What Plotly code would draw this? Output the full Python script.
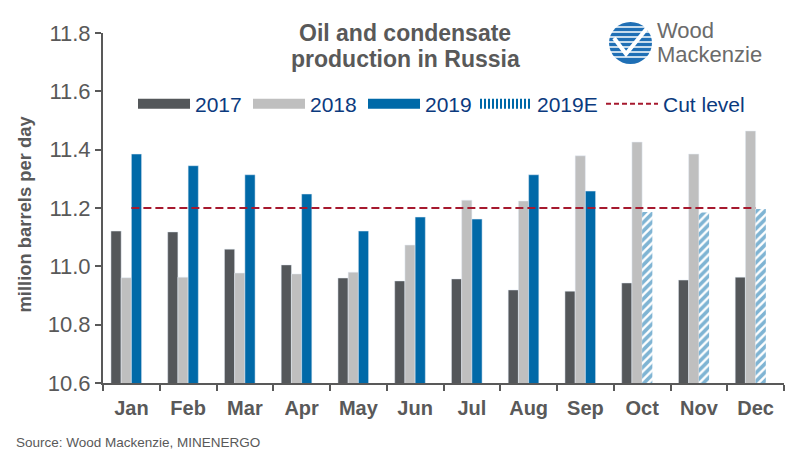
import plotly.graph_objects as go

months = ["Jan", "Feb", "Mar", "Apr", "May", "Jun", "Jul", "Aug", "Sep", "Oct", "Nov", "Dec"]
y2017 = [11.121, 11.118, 11.059, 11.005, 10.960, 10.950, 10.957, 10.919, 10.915, 10.943, 10.953, 10.963]
y2018 = [10.961, 10.963, 10.977, 10.974, 10.980, 11.073, 11.227, 11.224, 11.379, 11.426, 11.385, 11.464]
y2019 = [11.385, 11.345, 11.314, 11.248, 11.121, 11.169, 11.162, 11.314, 11.258, None, None, None]
y2019e = [None, None, None, None, None, None, None, None, None, 11.186, 11.185, 11.197]
cut_level = [11.2] * 12
y_ticks = [10.6, 10.8, 11.0, 11.2, 11.4, 11.6, 11.8]

FONT = "Liberation Sans, Arial, sans-serif"
GREY = "#595959"
BLUE = "#0069A8"
LEG_BLUE = "#0B3A7E"
C2017 = "#54575A"
C2018 = "#BFBFBF"
CUT = "#A6192E"

BW = 0.18
fig = go.Figure()
fig.add_trace(go.Bar(x=months, y=y2017, name="2017", marker_color=C2017,
                     width=BW, offset=-0.36, showlegend=False, legendgroup="a"))
fig.add_trace(go.Bar(x=months, y=y2018, name="2018", marker_color=C2018,
                     width=BW, offset=-0.18, showlegend=False, legendgroup="b"))
fig.add_trace(go.Bar(x=months, y=y2019, name="2019", marker_color=BLUE,
                     width=BW, offset=0.0, showlegend=False, legendgroup="c"))
fig.add_trace(go.Bar(x=months, y=y2019e, name="2019E",
                     marker=dict(color="white", line=dict(width=0),
                                 pattern=dict(shape="/", fgcolor=BLUE, bgcolor="white",
                                              size=6, solidity=0.6, fillmode="overlay")),
                     width=BW, offset=0.0, showlegend=False, legendgroup="d"))
fig.add_trace(go.Scatter(x=months, y=cut_level, name="Cut level", mode="lines",
                         line=dict(color=CUT, width=2, dash="8px,4px"), legendgroup="e",
                         showlegend=False))

# legend entries (wide Excel-style swatches)
for name, col, dash, grp, leg in [("2017", C2017, "solid", "a", "legend"),
                                  ("2018", C2018, "solid", "b", "legend"),
                                  ("2019", BLUE, "solid", "c", "legend"),
                                  ("2019E", BLUE, "2px,2px", "d", "legend2")]:
    fig.add_trace(go.Scatter(x=[None], y=[None], mode="lines", name=name, legendgroup=grp,
                             legend=leg, line=dict(color=col, width=11, dash=dash)))
fig.add_trace(go.Scatter(x=[None], y=[None], mode="lines", name="Cut level", legendgroup="e",
                         legend="legend3", line=dict(color=CUT, width=2, dash="5px,3px")))


def px(xp):
    return (xp - 103) / 681


def py(yp):
    return (383 - yp) / 350


shapes = []
shapes.append(dict(type="circle", xref="paper", yref="paper",
                   x0=px(609), x1=px(652), y0=py(64), y1=py(22),
                   fillcolor="#1F6FB5", line=dict(width=0), layer="above"))
for yy in [27, 32, 37, 42, 47, 52, 57]:
    shapes.append(dict(type="line", xref="paper", yref="paper",
                       x0=px(609), x1=px(652), y0=py(yy), y1=py(yy),
                       line=dict(color="white", width=1.5), layer="above"))
shapes.append(dict(type="path", xref="paper", yref="paper",
                   path=f"M {px(614)} {py(38)} L {px(626)} {py(54)} L {px(648)} {py(27)}",
                   line=dict(color="white", width=4), layer="above"))

annotations = [
    dict(text="<b>Oil and condensate</b>", xref="paper", yref="paper",
         x=px(405), y=py(33), xanchor="center", yanchor="middle", showarrow=False,
         font=dict(family=FONT, size=23, color=GREY)),
    dict(text="<b>production in Russia</b>", xref="paper", yref="paper",
         x=px(405), y=py(59), xanchor="center", yanchor="middle", showarrow=False,
         font=dict(family=FONT, size=23, color=GREY)),
    dict(text="Wood", xref="paper", yref="paper",
         x=px(655), y=py(31), xanchor="left", yanchor="middle", showarrow=False,
         font=dict(family=FONT, size=22, color="#6B6B6B")),
    dict(text="Mackenzie", xref="paper", yref="paper",
         x=px(655), y=py(55), xanchor="left", yanchor="middle", showarrow=False,
         font=dict(family=FONT, size=22, color="#6B6B6B")),
    dict(text="<b>million barrels per day</b>", xref="paper", yref="paper",
         x=px(24), y=py(214.5), xanchor="center", yanchor="middle", showarrow=False,
         textangle=-90, font=dict(family=FONT, size=18.4, color=GREY)),
    dict(text="Source: Wood Mackenzie, MINENERGO", xref="paper", yref="paper",
         x=px(14), y=py(442), xanchor="left", yanchor="middle", showarrow=False,
         font=dict(family=FONT, size=13.5, color=GREY)),
]

leg_common = dict(orientation="h", y=py(104), xanchor="left", yanchor="middle",
                  font=dict(family=FONT, size=21, color=LEG_BLUE), itemwidth=52,
                  tracegroupgap=0, bgcolor="rgba(0,0,0,0)")

fig.update_layout(
    width=796, height=454,
    margin=dict(l=103, r=12, t=33, b=71),
    paper_bgcolor="white", plot_bgcolor="white",
    barmode="overlay",
    font=dict(family=FONT, color=GREY),
    showlegend=True,
    legend=dict(x=px(133), entrywidth=48, entrywidthmode="pixels", **leg_common),
    legend2=dict(x=px(475), **leg_common),
    legend3=dict(x=px(601), **leg_common),
    xaxis=dict(type="category", showline=True, linecolor=GREY, linewidth=2,
               ticks="outside", tickson="boundaries", ticklen=6, tickcolor=GREY, tickwidth=2,
               tickfont=dict(family=FONT, size=20, color=GREY),
               tickprefix="<b>", ticksuffix="</b>",
               ticklabelstandoff=6, showgrid=False),
    yaxis=dict(range=[10.6, 11.8], tickvals=y_ticks, ticktext=[f"{v:.1f}" for v in y_ticks],
               showline=True, linecolor=GREY, linewidth=2, ticks="outside", ticklen=6,
               tickcolor=GREY, tickwidth=2, showgrid=False, zeroline=False,
               tickfont=dict(family=FONT, size=22, color=GREY)),
    shapes=shapes,
    annotations=annotations,
)

fig.write_html("out.html")
